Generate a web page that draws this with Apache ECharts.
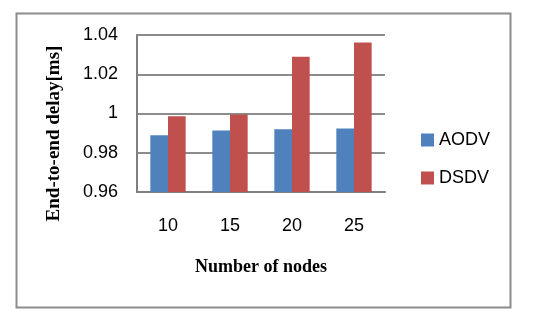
<!DOCTYPE html>
<html><head><meta charset="utf-8">
<script src="https://cdn.jsdelivr.net/npm/echarts@6/dist/echarts.min.js"></script>
<style>html,body{margin:0;padding:0;background:#fff}#c{width:544px;height:318px}</style>
</head><body><div id="c"></div>
<script>
var categories = ['10', '15', '20', '25'];
var aodv = [0.9889, 0.9913, 0.9920, 0.9923];
var dsdv = [0.9986, 0.9995, 1.0289, 1.0362];
var seriesNames = ['AODV', 'DSDV'];
var yMin = 0.96, yMax = 1.04, yStep = 0.02;

var chart = echarts.init(document.getElementById('c'), null, {renderer: 'canvas'});
chart.setOption({
  animation: false,
  backgroundColor: '#fff',
  graphic: [{
    type: 'rect', left: 14, top: 11,
    shape: {width: 494, height: 294},
    style: {fill: 'none', stroke: '#8c8c8c', lineWidth: 2}
  }],
  grid: {left: 137, right: 159, top: 35, bottom: 126},
  legend: {
    orient: 'vertical', left: 416, top: 126, itemGap: 20,
    itemWidth: 13, itemHeight: 13, icon: 'rect',
    textStyle: {fontFamily: 'Liberation Sans', fontSize: 18, color: '#000'},
    data: seriesNames
  },
  xAxis: {
    type: 'category', data: categories,
    name: 'Number of nodes', nameLocation: 'middle', nameGap: 66,
    nameTextStyle: {fontFamily: 'Liberation Serif', fontWeight: 'bold', fontSize: 18, color: '#000'},
    axisLine: {lineStyle: {color: '#7f7f7f', width: 2}},
    axisTick: {show: false},
    axisLabel: {fontFamily: 'Liberation Sans', fontSize: 18, color: '#000', margin: 25}
  },
  yAxis: {
    type: 'value', min: yMin, max: yMax, interval: yStep,
    name: 'End-to-end delay[ms]', nameLocation: 'middle', nameGap: 73,
    nameTextStyle: {fontFamily: 'Liberation Serif', fontWeight: 'bold', fontSize: 19, color: '#000',
      padding: [0, 40, 0, 0]},
    axisLine: {show: true, lineStyle: {color: '#7f7f7f', width: 2}},
    axisTick: {show: false},
    splitLine: {lineStyle: {color: '#8c8c8c', width: 2}},
    axisLabel: {fontFamily: 'Liberation Sans', fontSize: 18, color: '#000', margin: 19,
      formatter: function (v) { return String(+v.toFixed(2)); }}
  },
  series: [
    {name: seriesNames[0], type: 'bar', data: aodv, barGap: '0%', barCategoryGap: '43%',
     itemStyle: {color: '#4f81bd'}},
    {name: seriesNames[1], type: 'bar', data: dsdv, barGap: '0%', barCategoryGap: '43%',
     itemStyle: {color: '#c0504d'}}
  ]
});
</script></body></html>
